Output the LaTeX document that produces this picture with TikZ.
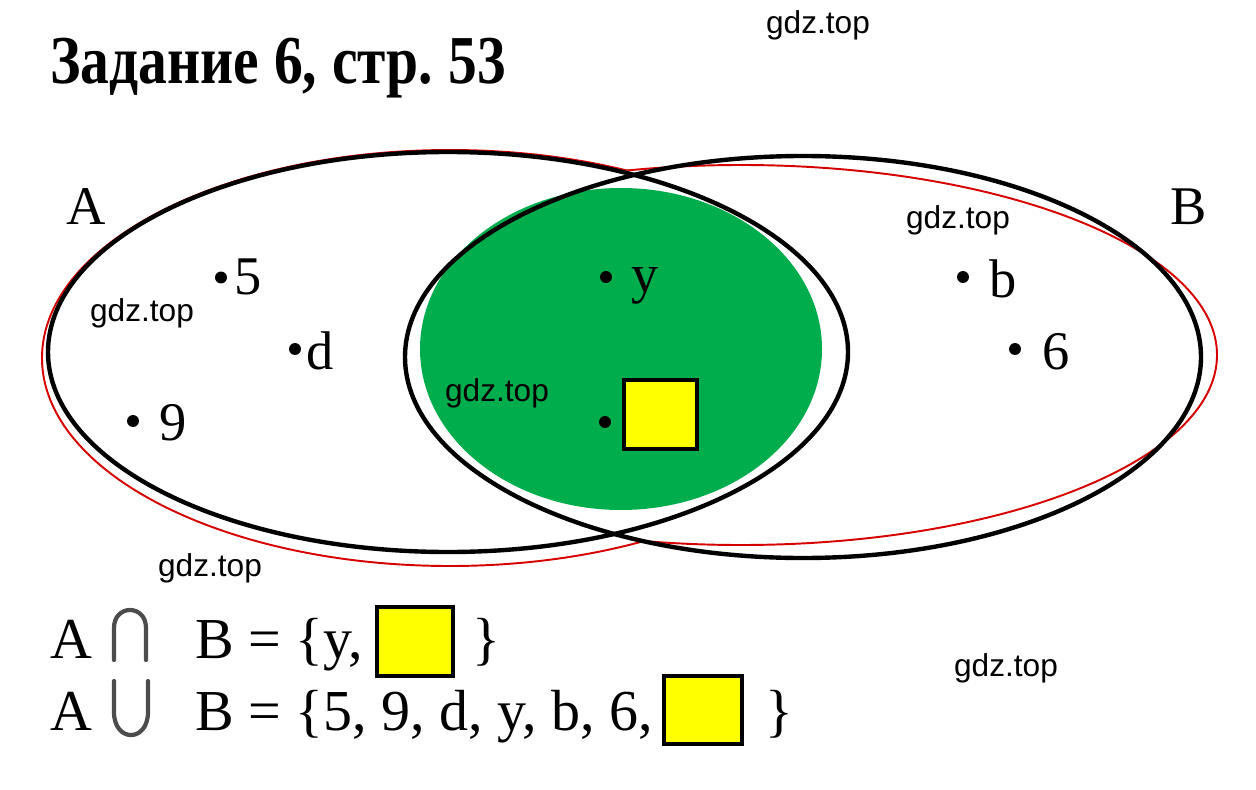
\documentclass[tikz,border=0pt]{standalone}
\usepackage{fontspec}
\setmainfont{Liberation Serif}
\newfontfamily\wmfont{Liberation Sans}
\usepackage{tikz}
\pgfdeclarelayer{nodelayer}
\pgfdeclarelayer{edgelayer}
\pgfsetlayers{edgelayer,nodelayer,main}
\definecolor{setgreen}{RGB}{0,173,76}
\definecolor{boxyellow}{RGB}{255,255,0}
\definecolor{outlinered}{RGB}{215,0,0}
\tikzstyle{set point}=[fill=black, draw=none, shape=circle, minimum size=6.8pt, inner sep=0pt]
\tikzstyle{element}=[anchor=base west, inner sep=0pt, font=\fontsize{31}{31}\selectfont]
\tikzstyle{equation}=[anchor=base west, inner sep=0pt, font=\fontsize{33}{33}\selectfont]
\tikzstyle{watermark}=[inner sep=0pt, font=\wmfont\fontsize{18}{18}\selectfont]
\tikzstyle{yellow box}=[fill=boxyellow, draw=black, line width=2.2pt, shape=rectangle, inner sep=0pt]
\tikzstyle{set outline}=[draw=black, line width=2.5pt]
\tikzstyle{red outline}=[draw=outlinered, line width=1.1pt]
\tikzstyle{set op}=[draw=black!70, line width=2.4pt, line cap=round]

\begin{document}
\begin{tikzpicture}[x=0.02cm, y=-0.02cm]
	\useasboundingbox (0,0) rectangle (1256,790);
	\begin{pgfonlayer}{nodelayer}
		\node [anchor=base west, inner sep=0pt, font=\fontsize{39}{39}\selectfont\bfseries] (0) at (50,84) {\scalebox{0.84}[1]{\frenchspacing\spaceskip=0.26em Задание 6, стр. 53}};
		\node [style=element] (1) at (66,225) {A};
		\node [style=element] (2) at (1170,225) {B};
		\node [style=set point] (3) at (221,277.5) {};
		\node [style=set point] (4) at (295,349) {};
		\node [style=set point] (5) at (133,421) {};
		\node [style=set point] (6) at (606,277) {};
		\node [style=set point] (7) at (605,422) {};
		\node [style=set point] (8) at (963,277) {};
		\node [style=set point] (9) at (1015,349) {};
		\node [style=element] (10) at (234,295) {5};
		\node [style=element] (11) at (306,369) {d};
		\node [style=element] (12) at (159,440) {9};
		\node [style=element] (13) at (631,293) {y};
		\node [style=element] (14) at (989,297) {b};
		\node [style=element] (15) at (1042,369) {6};
		\node [style=yellow box, minimum width=41.4pt, minimum height=39pt] (16) at (660.5,414.5) {};
		\node [style=watermark] (17) at (818,25) {gdz.top};
		\node [style=watermark] (18) at (142,313) {gdz.top};
		\node [style=watermark] (19) at (958,220) {gdz.top};
		\node [style=watermark] (20) at (497,393) {gdz.top};
		\node [style=watermark] (21) at (210,568) {gdz.top};
		\node [style=watermark] (22) at (1006,668) {gdz.top};
		\node [style=equation] (23) at (50,658) {A};
		\node [style=equation] (24) at (195,658) {B = \{y,};
		\node [style=yellow box, minimum width=43.1pt, minimum height=39.1pt] (25) at (415,641.5) {};
		\node [style=equation] (26) at (472,658) {\}};
		\node [style=equation] (27) at (50,730) {A};
		\node [style=equation] (28) at (195,730) {B = \{5, 9, d, y, b, 6,};
		\node [style=yellow box, minimum width=44.2pt, minimum height=38.6pt] (29) at (703,710) {};
		\node [style=equation] (30) at (765,730) {\}};
	\end{pgfonlayer}
	\begin{pgfonlayer}{edgelayer}
		\fill [setgreen] (621,349) ellipse (201 and 161);
		\begin{scope}[even odd rule]
			\clip (0,0) rectangle (1256,790) (741,355) ellipse (476 and 190);
			\draw [style=red outline] (450,358) ellipse (408 and 208);
		\end{scope}
		\begin{scope}[even odd rule]
			\clip (0,0) rectangle (1256,790) (450,358) ellipse (408 and 208);
			\draw [style=red outline] (741,355) ellipse (476 and 190);
		\end{scope}
		\draw [style=set outline] (448,352) ellipse (400 and 200);
		\draw [style=set outline] (803,357) ellipse (398 and 201);
		\draw [style=set op] (114,660) -- (114,628) .. controls (114,604) and (146,604) .. (146,628) -- (146,660);
		\draw [style=set op] (114,681) -- (114,712) .. controls (114,742.7) and (148,742.7) .. (148,712) -- (148,681);
	\end{pgfonlayer}
\end{tikzpicture}
\end{document}
